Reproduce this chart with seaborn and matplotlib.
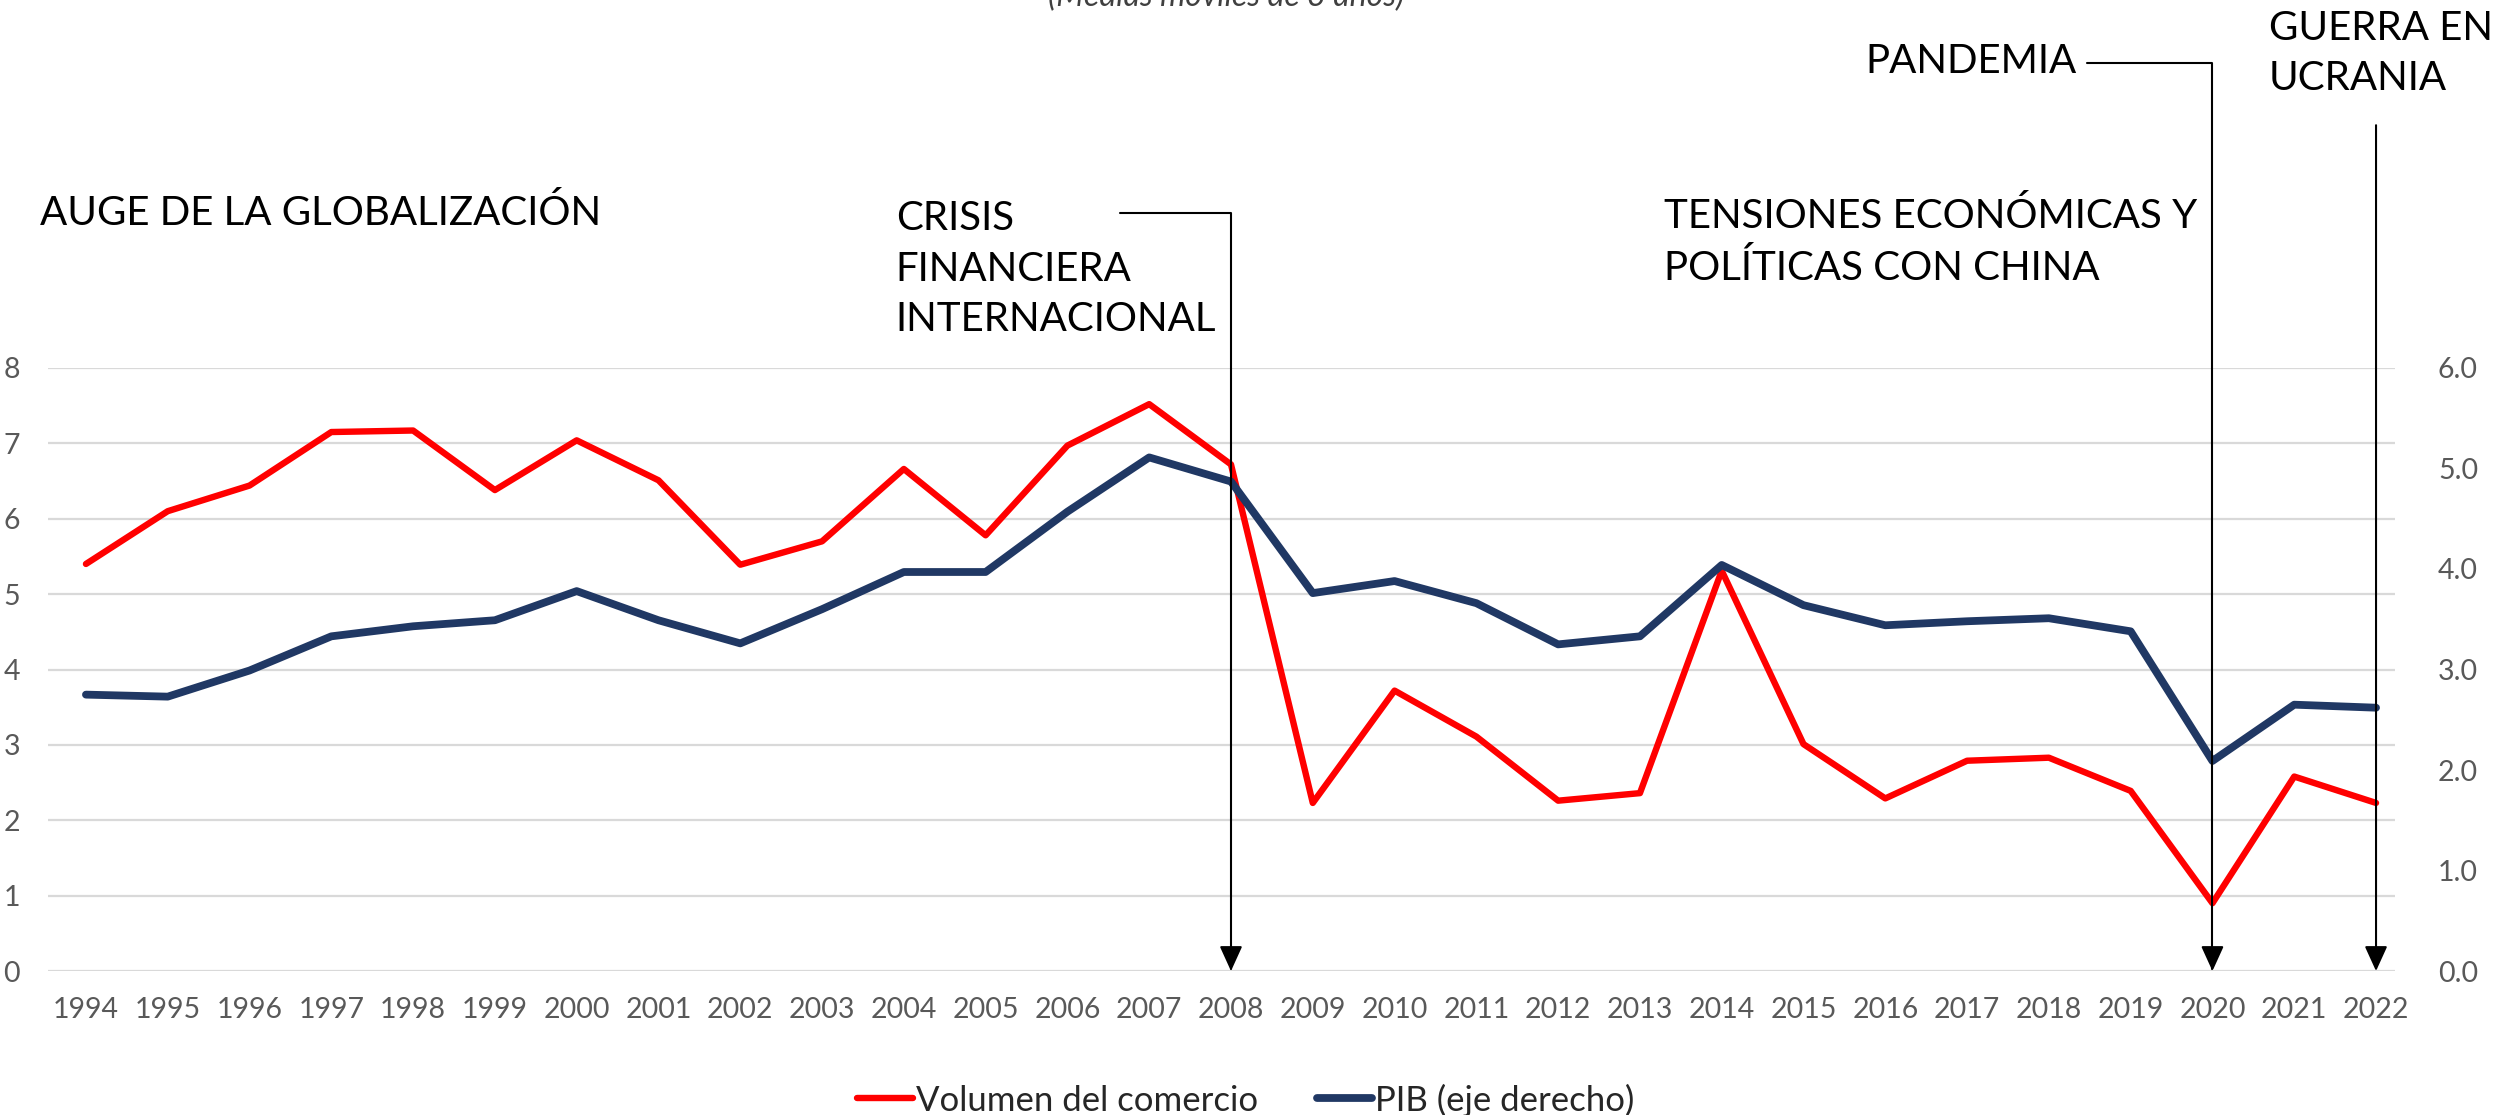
import seaborn as sns
import pandas as pd
import matplotlib.pyplot as plt
from matplotlib.ticker import FormatStrFormatter

years = list(range(1994, 2023))
comercio = [5.40, 6.10, 6.44, 7.15, 7.17, 6.38, 7.04, 6.51, 5.39, 5.70,
            6.66, 5.78, 6.97, 7.52, 6.72, 2.23, 3.72, 3.11, 2.26, 2.36,
            5.31, 3.01, 2.29, 2.79, 2.83, 2.39, 0.90, 2.58, 2.23]
pib = [2.75, 2.73, 2.99, 3.33, 3.43, 3.49, 3.78, 3.49, 3.26, 3.60,
       3.97, 3.97, 4.57, 5.11, 4.87, 3.76, 3.88, 3.66, 3.25, 3.33,
       4.04, 3.64, 3.44, 3.48, 3.51, 3.38, 2.09, 2.65, 2.62]
left_ticks = [0, 1, 2, 3, 4, 5, 6, 7, 8]
right_ticks = [0, 1, 2, 3, 4, 5, 6]

df = pd.DataFrame({'anio': years, 'comercio': comercio, 'pib': pib})

sns.set_theme(style='white')
plt.rcParams['font.family'] = ['Lato', 'DejaVu Sans']

RED = '#FF0000'
NAVY = '#203864'
GRAY = '#595959'

fig = plt.figure(figsize=(25.09, 11.15), dpi=100)
ax = fig.add_axes([0.0191, 0.1291, 0.9354, 0.5409])
ax2 = ax.twinx()

sns.lineplot(data=df, x='anio', y='comercio', ax=ax, color=RED, lw=4.6,
             label='Volumen del comercio', legend=False)
sns.lineplot(data=df, x='anio', y='pib', ax=ax2, color=NAVY, lw=5.6,
             label='PIB (eje derecho)', legend=False)

ax.set_xlim(1993.535, 2022.23)
ax.set_ylim(0, 8)
ax2.set_ylim(0, 6)
ax.set_yticks(left_ticks)
ax2.set_yticks(right_ticks)
ax2.yaxis.set_major_formatter(FormatStrFormatter('%.1f'))
ax.set_xticks(years)
ax.set_xlabel('')
ax.set_ylabel('')
ax2.set_ylabel('')
ax.grid(axis='y', color='#D9D9D9', lw=1.6)
ax.grid(axis='x', visible=False)
ax2.grid(False)
for a in (ax, ax2):
    for s in a.spines.values():
        s.set_visible(False)
ax.tick_params(axis='x', length=0, pad=19, labelsize=20.5, labelcolor=GRAY)
ax.tick_params(axis='y', length=0, pad=20, labelsize=20.5, labelcolor=GRAY)
ax2.tick_params(axis='y', length=0, pad=31, labelsize=20.5, labelcolor=GRAY)

# annotations
tfont = dict(fontsize=29, color='black', clip_on=False, transform=ax.transData)
ax.text(1993.44, 10.06, 'AUGE DE LA GLOBALIZACIÓN', ha='left', va='center', **tfont)
ax.text(2003.9, 9.31, 'CRISIS\nFINANCIERA\nINTERNACIONAL', ha='left', va='center',
        linespacing=1.45, **tfont)
ax.text(2013.29, 9.67, 'TENSIONES ECONÓMICAS Y\nPOLÍTICAS CON CHINA', ha='left',
        va='center', linespacing=1.45, **tfont)
ax.text(2018.34, 12.07, 'PANDEMIA', ha='right', va='center', **tfont)
ax.text(2020.69, 12.17, 'GUERRA EN\nUCRANIA', ha='left', va='center',
        linespacing=1.45, **tfont)

arrow = dict(arrowstyle='-|>,head_length=0.55,head_width=0.25', color='black',
             lw=1.5, shrinkA=0, shrinkB=0, mutation_scale=28)
ax2.annotate('', xy=(2008, 0), xytext=(2006.64, 10.06), xycoords=ax.transData,
             textcoords=ax.transData, annotation_clip=False,
             arrowprops=dict(connectionstyle='angle,angleA=0,angleB=90,rad=0', **arrow))
ax2.annotate('', xy=(2020, 0), xytext=(2018.47, 12.04), xycoords=ax.transData,
             textcoords=ax.transData, annotation_clip=False,
             arrowprops=dict(connectionstyle='angle,angleA=0,angleB=90,rad=0', **arrow))
ax2.annotate('', xy=(2022, 0), xytext=(2022, 11.22), xycoords=ax.transData,
             textcoords=ax.transData, annotation_clip=False, arrowprops=arrow)

fig.text(0.4885, 1 - 6 / 1115, '(Medias móviles de 3 años)', ha='center',
         va='baseline', fontsize=23, style='italic', color='#404040')

handles = [ax.lines[0], ax2.lines[0]]
fig.legend(handles, [h.get_label() for h in handles], loc='center',
           bbox_to_anchor=(0.4966, 1 - 1100 / 1115), ncol=2, frameon=False,
           fontsize=25, handlelength=1.6, handletextpad=0.08, columnspacing=1.7,
           labelcolor='#262626')

fig.savefig('out.png', dpi=100)
